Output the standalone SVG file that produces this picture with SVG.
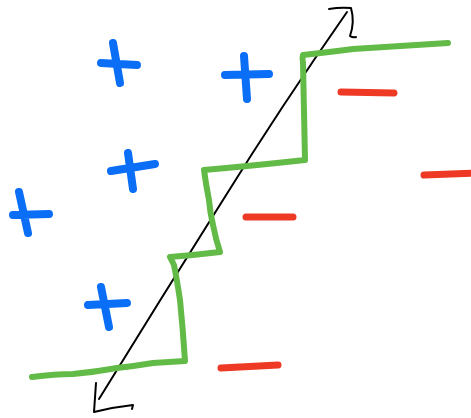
<svg xmlns="http://www.w3.org/2000/svg" width="471" height="418" viewBox="0 0 471 418">
<style>
.p{stroke:#0a6ef6;stroke-width:8;stroke-linecap:round;fill:none}
.m{stroke:#ee3a24;stroke-width:7;stroke-linecap:round;fill:none}
.g{stroke:#63bb47;stroke-width:6;stroke-linecap:round;stroke-linejoin:round;fill:none}
.k{stroke:#000;stroke-width:2;stroke-linecap:round;stroke-linejoin:round;fill:none}
</style>
<rect width="471" height="418" fill="#fff"/>
<g id="axis">
<path class="k" d="M347,12 Q280,108 223,200 Q160,300 99,399"/>
<path class="k" d="M329,9 Q340,7 351,8 Q355,22 350,36 Q353,38 356,37"/>
<path class="k" d="M96,383 Q95,398 94,412 Q114,407 133,405 L132,409"/>
</g>
<g id="boundary">
<path class="g" d="M32,377 Q55,374 73,374 Q95,372 117,368 Q135,366 153,363 Q170,362 185,361 Q183,330 180,300 Q177,280 174,265 L170,257 Q195,255 220,252 Q216,240 213,225 Q210,212 209,200 Q206,185 204,170 Q250,166 305,160 Q304,120 303,63 Q302,58 303,55 Q330,52 353,49 Q400,46 448,43"/>
</g>
<g id="plus1"><path class="p" d="M101,63 L137,65 M113,43 L120,83"/></g>
<g id="plus2"><path class="p" d="M225,75 L269,74 M244,56 L247,99"/></g>
<g id="plus3"><path class="p" d="M111,171 L155,164 M128,153 L133,189"/></g>
<g id="plus4"><path class="p" d="M13,215 L49,214 M19,192 L28,233"/></g>
<g id="plus5"><path class="p" d="M88,305 L127,303 M101,287 L109,327"/></g>
<g id="minus1"><path class="m" d="M341,92 L394,93"/></g>
<g id="minus2"><path class="m" d="M424,175 L475,173"/></g>
<g id="minus3"><path class="m" d="M246,217 L293,217"/></g>
<g id="minus4"><path class="m" d="M221,368 L278,365"/></g>
</svg>
